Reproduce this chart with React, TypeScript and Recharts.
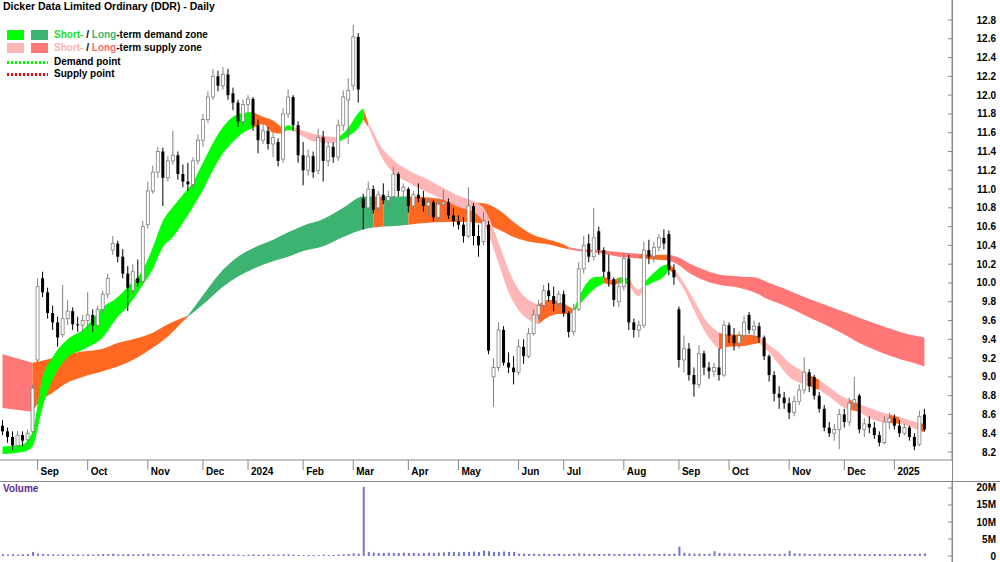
import React from 'react';
import { ComposedChart, BarChart, Bar, Area, XAxis, YAxis } from 'recharts';

// one candle per slot (o, h, l, c), Aug 2023 -> Jan 2025
const ohlc: [number, number, number, number][] = [
  [8.48, 8.54, 8.38, 8.42], [8.42, 8.46, 8.30, 8.36], [8.36, 8.42, 8.22, 8.27], [8.27, 8.42, 8.24, 8.38],
  [8.38, 8.42, 8.26, 8.32], [8.33, 8.44, 8.30, 8.40], [8.42, 8.92, 8.40, 8.88], [9.18, 10.05, 9.15, 9.96],
  [10.05, 10.12, 9.85, 9.90], [9.90, 9.95, 9.62, 9.68], [9.68, 9.76, 9.50, 9.58], [9.58, 9.64, 9.32, 9.42],
  [9.45, 9.98, 9.42, 9.62], [9.62, 9.82, 9.55, 9.70], [9.70, 9.74, 9.50, 9.56], [9.56, 9.64, 9.48, 9.55],
  [9.55, 9.66, 9.48, 9.60], [9.60, 9.90, 9.52, 9.66], [9.66, 9.72, 9.48, 9.55], [9.55, 9.76, 9.52, 9.72],
  [9.72, 9.92, 9.68, 9.88], [9.88, 10.10, 9.84, 10.05], [10.35, 10.50, 10.30, 10.42], [10.42, 10.45, 10.22, 10.28],
  [10.28, 10.36, 10.05, 10.10], [10.10, 10.18, 9.70, 9.95], [9.92, 10.20, 9.88, 10.12], [10.05, 10.25, 9.96, 10.00],
  [10.02, 10.66, 10.00, 10.60], [10.62, 11.08, 10.58, 10.98], [10.98, 11.25, 10.95, 11.18], [11.18, 11.45, 11.12, 11.40],
  [11.40, 11.44, 10.82, 11.12], [11.12, 11.35, 11.08, 11.30], [11.30, 11.62, 11.26, 11.36], [11.36, 11.40, 11.10, 11.16],
  [11.16, 11.26, 11.02, 11.08], [11.08, 11.28, 10.98, 11.05], [11.05, 11.34, 11.00, 11.30], [11.30, 11.58, 11.26, 11.52],
  [11.52, 11.80, 11.45, 11.74], [11.74, 12.04, 11.70, 11.98], [11.98, 12.28, 11.95, 12.20], [12.20, 12.26, 12.04, 12.10],
  [12.10, 12.30, 12.06, 12.22], [12.22, 12.28, 11.95, 12.00], [12.02, 12.08, 11.84, 11.92], [11.92, 11.95, 11.66, 11.72],
  [11.72, 11.95, 11.68, 11.90], [11.90, 12.00, 11.80, 11.96], [11.96, 11.98, 11.62, 11.68], [11.68, 11.74, 11.38, 11.52],
  [11.52, 11.70, 11.48, 11.62], [11.62, 11.66, 11.42, 11.48], [11.48, 11.60, 11.34, 11.55], [11.50, 11.54, 11.24, 11.30],
  [11.32, 11.86, 11.28, 11.80], [11.80, 12.06, 11.76, 11.98], [11.98, 12.00, 11.62, 11.68], [11.68, 11.72, 11.28, 11.36],
  [11.36, 11.50, 11.04, 11.20], [11.20, 11.42, 11.14, 11.35], [11.35, 11.40, 11.12, 11.18], [11.20, 11.64, 11.16, 11.55],
  [11.55, 11.62, 11.08, 11.30], [11.30, 11.50, 11.24, 11.45], [11.45, 11.50, 11.28, 11.34], [11.34, 11.74, 11.30, 11.68],
  [11.68, 12.05, 11.62, 11.98], [11.95, 12.18, 11.48, 12.05], [12.10, 12.75, 12.05, 12.62], [12.62, 12.66, 11.92, 12.06],
  [10.90, 10.95, 10.57, 10.80], [10.80, 11.08, 10.78, 11.00], [11.00, 11.04, 10.74, 10.78], [10.80, 10.98, 10.76, 10.94],
  [10.94, 11.06, 10.84, 10.88], [10.88, 10.98, 10.82, 10.92], [10.92, 11.24, 10.88, 11.16], [11.16, 11.18, 10.92, 10.98],
  [10.98, 11.06, 10.90, 11.02], [11.00, 11.02, 10.75, 10.82], [10.82, 10.98, 10.80, 10.94], [10.94, 11.06, 10.86, 10.90],
  [10.90, 10.98, 10.76, 10.82], [10.82, 10.90, 10.72, 10.86], [10.86, 10.88, 10.66, 10.70], [10.70, 10.90, 10.66, 10.84],
  [10.84, 10.99, 10.78, 10.86], [10.86, 10.90, 10.68, 10.72], [10.72, 10.80, 10.60, 10.66], [10.66, 10.72, 10.57, 10.62],
  [10.62, 10.70, 10.43, 10.50], [10.50, 11.02, 10.48, 10.82], [10.82, 10.85, 10.40, 10.50], [10.50, 10.62, 10.28, 10.40],
  [10.44, 10.76, 10.40, 10.66], [10.62, 10.66, 9.24, 9.28], [9.00, 9.20, 8.68, 9.10], [9.10, 9.58, 9.06, 9.50],
  [9.50, 9.54, 9.12, 9.15], [9.15, 9.26, 9.04, 9.10], [9.10, 9.22, 8.92, 9.05], [9.05, 9.40, 9.02, 9.32],
  [9.32, 9.40, 9.14, 9.22], [9.22, 9.52, 9.20, 9.46], [9.46, 9.72, 9.44, 9.66], [9.66, 9.82, 9.60, 9.76],
  [9.76, 9.98, 9.70, 9.92], [9.92, 10.00, 9.80, 9.86], [9.86, 9.96, 9.70, 9.78], [9.78, 9.92, 9.74, 9.88],
  [9.88, 9.92, 9.64, 9.68], [9.68, 9.70, 9.42, 9.48], [9.48, 9.78, 9.44, 9.72], [9.72, 10.22, 9.70, 10.15],
  [10.15, 10.50, 10.10, 10.40], [10.42, 10.52, 10.22, 10.28], [10.28, 10.80, 10.24, 10.48], [10.55, 10.60, 10.30, 10.35],
  [10.35, 10.38, 10.06, 10.12], [10.12, 10.30, 9.96, 10.04], [10.04, 10.06, 9.75, 9.82], [9.80, 10.04, 9.74, 9.96],
  [9.96, 10.32, 9.92, 10.26], [10.26, 10.30, 9.50, 9.58], [9.58, 9.62, 9.42, 9.50], [9.50, 9.60, 9.42, 9.55],
  [9.55, 10.44, 9.52, 10.35], [10.35, 10.46, 10.20, 10.28], [10.28, 10.44, 10.22, 10.38], [10.38, 10.52, 10.34, 10.48],
  [10.48, 10.57, 10.36, 10.42], [10.52, 10.56, 10.08, 10.14], [10.14, 10.20, 9.98, 10.06], [9.72, 9.75, 9.10, 9.18],
  [9.18, 9.44, 9.05, 9.30], [9.30, 9.36, 8.96, 9.02], [9.02, 9.10, 8.79, 8.92], [8.92, 9.34, 8.88, 9.25],
  [9.25, 9.28, 9.02, 9.10], [9.10, 9.16, 8.98, 9.06], [9.06, 9.15, 9.00, 9.10], [9.10, 9.30, 8.96, 9.02],
  [9.02, 9.60, 9.00, 9.55], [9.55, 9.58, 9.36, 9.44], [9.44, 9.52, 9.28, 9.36], [9.36, 9.48, 9.30, 9.44],
  [9.44, 9.65, 9.40, 9.58], [9.66, 9.69, 9.46, 9.50], [9.50, 9.60, 9.40, 9.54], [9.54, 9.58, 9.36, 9.42],
  [9.42, 9.44, 9.18, 9.22], [9.22, 9.24, 8.95, 9.02], [9.02, 9.06, 8.74, 8.82], [8.82, 8.90, 8.66, 8.78],
  [8.78, 8.84, 8.66, 8.72], [8.72, 8.78, 8.55, 8.62], [8.62, 8.80, 8.58, 8.74], [8.74, 8.92, 8.70, 8.86],
  [8.86, 9.21, 8.82, 9.05], [9.05, 9.08, 8.84, 8.90], [9.00, 9.02, 8.76, 8.80], [8.80, 8.84, 8.62, 8.66],
  [8.66, 8.70, 8.42, 8.46], [8.46, 8.52, 8.36, 8.40], [8.40, 8.50, 8.32, 8.44], [8.44, 8.66, 8.23, 8.60],
  [8.60, 8.66, 8.46, 8.52], [8.52, 8.78, 8.48, 8.72], [8.72, 9.00, 8.66, 8.76], [8.80, 8.82, 8.40, 8.44],
  [8.44, 8.56, 8.36, 8.50], [8.50, 8.58, 8.40, 8.46], [8.46, 8.52, 8.34, 8.38], [8.38, 8.42, 8.26, 8.30],
  [8.30, 8.58, 8.28, 8.52], [8.52, 8.62, 8.44, 8.56], [8.56, 8.60, 8.44, 8.48], [8.48, 8.54, 8.36, 8.40],
  [8.40, 8.50, 8.38, 8.46], [8.46, 8.48, 8.32, 8.36], [8.36, 8.40, 8.22, 8.26], [8.28, 8.64, 8.26, 8.58],
  [8.60, 8.66, 8.42, 8.44],
];

// volume in millions, one per candle
const volume = [
  0.5, 0.4, 0.5, 0.4, 0.5, 0.6, 1.2,
  0.7, 0.6, 0.5, 0.5, 0.4, 0.5, 0.4, 0.4, 0.5, 0.4, 0.5, 0.4, 0.5, 0.6,
  0.6, 0.7, 0.5, 0.5, 0.6, 0.5, 0.5, 0.6, 0.7, 0.6, 0.5, 0.6, 0.5, 0.5, 0.4, 0.5, 0.4, 0.5, 0.5, 0.6,
  0.5, 0.5, 0.4, 0.5, 0.5, 0.4, 0.4, 0.3, 0.4, 0.5, 0.4, 0.4, 0.5, 0.4, 0.4, 0.5, 0.5,
  0.4, 0.3, 0.3, 0.3, 0.3, 0.3, 0.4, 0.3, 0.3, 0.4, 0.5, 0.6, 0.8, 0.7,
  20.3,
  1.2, 1.0, 0.9, 0.9, 1.0, 0.9, 0.9, 1.0, 0.9, 0.9, 0.8, 0.9, 1.0, 0.9,
  1.0, 1.1, 1.2, 1.2, 1.1, 1.2, 1.2, 1.3, 1.2, 1.6, 1.4, 1.2, 1.2, 1.3, 1.2, 1.2,
  0.7, 0.7, 0.6, 0.7, 0.6, 0.7, 0.6, 0.6, 0.7, 0.6, 0.6, 0.7, 0.8, 0.7, 0.6, 0.7,
  0.6, 0.6, 0.7, 0.6, 0.6, 0.7, 0.6, 0.7, 0.7, 0.6, 0.6, 0.7, 0.6, 0.7, 0.6, 0.7,
  2.8,
  1.0, 0.8, 0.7, 0.7, 0.6, 0.7, 1.4, 0.9, 0.8, 0.8, 0.7, 0.7, 0.7, 0.6, 0.6, 0.6, 0.7, 0.7, 0.6, 0.6, 0.7,
  1.5,
  0.8, 0.7, 0.7, 0.6, 0.6, 0.7, 0.6, 0.6, 0.7, 0.6, 0.6, 0.6, 0.7, 0.6, 0.6, 0.5, 0.6, 0.6, 0.5, 0.6,
  0.6, 0.5, 0.6, 0.6, 0.6, 0.7, 0.8,
];

const EMPTY_SLOTS = 5;

const monthTicks = [7, 17, 29, 40, 49, 60, 70, 81, 91, 103, 112, 124, 135, 145, 157, 168, 178];
const monthLabels = ['Sep', 'Oct', 'Nov', 'Dec', '2024', 'Feb', 'Mar', 'Apr', 'May', 'Jun', 'Jul', 'Aug', 'Sep', 'Oct', 'Nov', 'Dec', '2025'];
const priceTicks = [8.2, 8.4, 8.6, 8.8, 9.0, 9.2, 9.4, 9.6, 9.8, 10.0, 10.2, 10.4, 10.6, 10.8, 11.0, 11.2, 11.4, 11.6, 11.8, 12.0, 12.2, 12.4, 12.6, 12.8];
const volumeTicks = [0, 5, 10, 15, 20];

// short-term zone: candle slot, lower edge, upper edge, zone of the stretch that follows
const shortRows = [0, 4, 6, 8, 10, 13, 16, 20, 23, 25, 28, 30, 32, 34, 36, 38, 40, 42, 44, 46, 48, 50, 52, 54, 56, 57, 58, 60, 62, 65, 67, 69, 71, 72, 73, 74, 75, 78, 81, 85, 88, 91, 94, 96, 99, 101, 103, 106, 107, 109, 111, 113, 114, 116, 118, 120, 122, 123, 125, 127, 128, 130, 132, 133, 134, 136, 138, 140, 143, 145, 148, 151, 153, 155, 157, 159, 161, 163, 165, 168, 169, 171, 174, 177, 179, 181, 183, 184];
const shortLow = [8.18, 8.20, 8.26, 8.68, 8.97, 9.21, 9.29, 9.42, 9.64, 9.75, 9.98, 10.15, 10.38, 10.49, 10.64, 10.81, 10.99, 11.20, 11.38, 11.50, 11.60, 11.65, 11.69, 11.60, 11.59, 11.63, 11.62, 11.56, 11.51, 11.49, 11.50, 11.56, 11.65, 11.74, 11.66, 11.54, 11.41, 11.17, 11.07, 10.96, 10.89, 10.81, 10.76, 10.64, 10.21, 9.90, 9.71, 9.58, 9.56, 9.64, 9.67, 9.67, 9.69, 9.82, 9.93, 10.00, 9.98, 10.00, 9.99, 9.86, 9.96, 10.01, 10.07, 10.14, 10.10, 9.93, 9.71, 9.50, 9.29, 9.32, 9.33, 9.36, 9.26, 9.13, 9.00, 8.94, 8.90, 8.86, 8.79, 8.67, 8.65, 8.63, 8.54, 8.51, 8.50, 8.47, 8.43, 8.41];
const shortHigh = [8.26, 8.28, 8.42, 9.00, 9.21, 9.40, 9.50, 9.74, 9.85, 9.96, 10.14, 10.38, 10.66, 10.81, 10.94, 11.07, 11.28, 11.49, 11.66, 11.77, 11.81, 11.82, 11.77, 11.73, 11.64, 11.68, 11.66, 11.62, 11.59, 11.56, 11.55, 11.65, 11.81, 11.86, 11.70, 11.61, 11.50, 11.31, 11.20, 11.10, 11.01, 10.93, 10.87, 10.80, 10.43, 10.14, 9.93, 9.79, 9.77, 9.82, 9.80, 9.75, 9.72, 9.95, 10.06, 10.07, 10.03, 10.06, 10.05, 9.93, 10.00, 10.11, 10.19, 10.20, 10.16, 10.00, 9.82, 9.63, 9.47, 9.45, 9.45, 9.43, 9.34, 9.26, 9.15, 9.08, 9.02, 8.97, 8.89, 8.78, 8.76, 8.71, 8.65, 8.60, 8.57, 8.54, 8.51, 8.50];
const shortZone = ['sd', 'sd', 'sd', 'sd', 'sd', 'sd', 'sd', 'sd', 'sd', 'sd', 'sd', 'sd', 'sd', 'sd', 'sd', 'sd', 'sd', 'sd', 'sd', 'sd', 'sd', 'mx', 'mx', 'mx', 'sd', 'sd', 'ss', 'ss', 'ss', 'ss', 'sd', 'sd', 'sd', 'mx', 'ss', 'ss', 'ss', 'ss', 'ss', 'ss', 'ss', 'ss', 'ss', 'ss', 'ss', 'ss', 'ss', 'ss', 'mx', 'mx', 'mx', 'mx', 'sd', 'sd', 'sd', 'mx', 'mx', 'sd', 'ss', 'ss', 'sd', 'sd', 'sd', 'mx', 'ss', 'ss', 'ss', 'ss', 'mx', 'mx', 'mx', 'ss', 'ss', 'ss', 'ss', 'ss', 'mx', 'ss', 'ss', 'ss', 'mx', 'ss', 'ss', 'mx', 'ss', 'ss', 'mx', 'mx'];

// long-term zone
const longRows = [0, 6, 7, 10, 13, 16, 20, 23, 26, 30, 33, 36, 37, 40, 44, 47, 50, 54, 57, 60, 64, 68, 72, 74, 76, 79, 81, 85, 88, 92, 96, 99, 102, 106, 109, 112, 113, 115, 119, 123, 127, 130, 133, 135, 137, 140, 143, 147, 150, 153, 156, 160, 164, 168, 171, 174, 178, 181, 184];
const longLow = [8.67, 8.63, 8.71, 8.83, 8.94, 9.00, 9.06, 9.11, 9.18, 9.31, 9.43, 9.59, 9.64, 9.77, 9.96, 10.07, 10.15, 10.23, 10.28, 10.34, 10.39, 10.49, 10.57, 10.59, 10.60, 10.61, 10.62, 10.64, 10.65, 10.65, 10.63, 10.57, 10.49, 10.43, 10.41, 10.37, 10.36, 10.34, 10.32, 10.28, 10.26, 10.25, 10.24, 10.19, 10.11, 10.03, 9.98, 9.95, 9.90, 9.82, 9.76, 9.66, 9.56, 9.45, 9.36, 9.29, 9.21, 9.16, 9.11];
const longHigh = [9.24, 9.15, 9.16, 9.20, 9.24, 9.27, 9.30, 9.36, 9.40, 9.47, 9.56, 9.63, 9.65, 9.87, 10.14, 10.28, 10.37, 10.46, 10.54, 10.61, 10.68, 10.80, 10.92, 10.92, 10.92, 10.92, 10.92, 10.91, 10.89, 10.86, 10.85, 10.78, 10.65, 10.51, 10.46, 10.41, 10.38, 10.36, 10.35, 10.33, 10.31, 10.30, 10.30, 10.27, 10.21, 10.14, 10.09, 10.07, 10.06, 10.00, 9.94, 9.85, 9.77, 9.69, 9.63, 9.57, 9.50, 9.45, 9.42];
const longZone = ['ls', 'mx', 'mx', 'mx', 'mx', 'mx', 'mx', 'mx', 'mx', 'mx', 'mx', 'mx', 'ld', 'ld', 'ld', 'ld', 'ld', 'ld', 'ld', 'ld', 'ld', 'ld', 'ld', 'mx', 'ld', 'ld', 'mx', 'mx', 'mx', 'mx', 'mx', 'mx', 'mx', 'mx', 'mx', 'mx', 'ls', 'ls', 'ls', 'ls', 'mx', 'mx', 'ls', 'ls', 'ls', 'ls', 'ls', 'ls', 'ls', 'ls', 'ls', 'ls', 'ls', 'ls', 'ls', 'ls', 'ls', 'ls', 'ls'];

const zoneColor: Record<string, string> = {
  sd: '#00FF00',
  ld: '#3CB371',
  ss: '#FFB6B6',
  ls: '#FF7777',
  mx: '#FF6820',
};

const FONT = "'Liberation Sans', Arial, sans-serif";

const rows: any[] = [];
for (let i = 0; i < ohlc.length + EMPTY_SLOTS; i++) {
  const c = ohlc[i];
  rows.push(c ? { i, o: c[0], h: c[1], l: c[2], c: c[3], range: [c[2], c[1]], vol: volume[i] } : { i });
}

function buildSegments(prefix: string, sRows: number[], lo: number[], hi: number[], zone: string[]) {
  const segs: { key: string; color: string }[] = [];
  let a = 0;
  for (let k = 1; k < sRows.length; k++) {
    const last = k === sRows.length - 1;
    if (zone[k] !== zone[a] || last) {
      const key = `${prefix}${segs.length}`;
      for (let j = a; j <= k; j++) rows[sRows[j]][key] = [lo[j], hi[j]];
      segs.push({ key, color: zoneColor[zone[a]] });
      a = k;
    }
  }
  return segs;
}

const longSegs = buildSegments('lz', longRows, longLow, longHigh, longZone);
const shortSegs = buildSegments('sz', shortRows, shortLow, shortHigh, shortZone);

const Candle = (props: any) => {
  const { x, y, width, height, payload } = props;
  if (!payload || payload.h == null) return null;
  const { o, h, l, c } = payload;
  const ppu = height / (h - l || 1);
  const yo = y + (h - o) * ppu;
  const yc = y + (h - c) * ppu;
  const up = c >= o;
  const cx = x + width / 2;
  const top = Math.min(yo, yc);
  const bh = Math.max(Math.abs(yc - yo), 1);
  const col = up ? '#808080' : '#000000';
  return (
    <g>
      <line x1={cx} x2={cx} y1={y} y2={y + height} stroke={col} strokeWidth={1} />
      <rect x={x} y={top} width={width} height={bh} fill={up ? '#ffffff' : '#000000'} stroke={col} strokeWidth={up ? 0.8 : 0} />
    </g>
  );
};

const MonthTick = (props: any) => {
  const { x, y, payload } = props;
  const k = monthTicks.indexOf(payload.value);
  return (
    <text x={x + 3} y={y + 5} fontSize={10} fontWeight="bold" fontFamily={FONT} fill="#000">
      {monthLabels[k]}
    </text>
  );
};

const PriceTick = (props: any) => {
  const { x, y, payload } = props;
  return (
    <g>
      <line x1={x - 4} x2={x} y1={y} y2={y} stroke="#888" />
      <text x={x + 44} y={y + 3.5} textAnchor="end" fontSize={10} fontWeight="bold" fontFamily={FONT} fill="#000">
        {Number(payload.value).toFixed(1)}
      </text>
    </g>
  );
};

const VolTick = (props: any) => {
  const { x, y, payload } = props;
  return (
    <g>
      <line x1={x - 4} x2={x} y1={y} y2={y} stroke="#888" />
      <text x={x + 44} y={y + 3.5} textAnchor="end" fontSize={10} fontWeight="bold" fontFamily={FONT} fill="#000">
        {payload.value === 0 ? '0' : `${payload.value}M`}
      </text>
    </g>
  );
};

const swatch = (color: string, left: number, top: number) => (
  <div style={{ position: 'absolute', left, top, width: 17, height: 10, background: color }} />
);

const dotted = (color: string, top: number) => (
  <div
    style={{
      position: 'absolute',
      left: 7,
      top,
      width: 41,
      height: 3,
      background: `repeating-linear-gradient(90deg, ${color} 0 2px, transparent 2px 4px)`,
    }}
  />
);

const legendText: React.CSSProperties = {
  position: 'absolute',
  left: 54,
  fontFamily: FONT,
  fontWeight: 'bold',
  fontSize: 10,
  lineHeight: '12px',
  color: '#000',
  whiteSpace: 'nowrap',
};

export default function App() {
  return (
    <div style={{ position: 'relative', width: 1000, height: 562, background: '#fff', overflow: 'hidden' }}>
      <style>{'body{margin:0}'}</style>
      <div style={{ position: 'absolute', left: 0, top: 0 }}>
        <ComposedChart width={1000} height={480} data={rows} margin={{ top: 0, right: 0, bottom: 0, left: 0 }}>
          <XAxis
            dataKey="i"
            ticks={monthTicks}
            interval={0}
            height={20}
            tickSize={10}
            tickMargin={0}
            tick={<MonthTick />}
            axisLine={{ stroke: '#888' }}
            tickLine={{ stroke: '#888' }}
          />
          <YAxis
            orientation="right"
            width={48}
            domain={[8.115, 13.013]}
            allowDataOverflow
            ticks={priceTicks}
            interval={0}
            tickSize={0}
            tickMargin={0}
            tick={<PriceTick />}
            axisLine={{ stroke: '#888' }}
          />
          {longSegs.map((s) => (
            <Area
              key={s.key}
              dataKey={s.key}
              type="monotone"
              fill={s.color}
              fillOpacity={1}
              stroke="none"
              connectNulls
              dot={false}
              activeDot={false}
              isAnimationActive={false}
            />
          ))}
          {shortSegs.map((s) => (
            <Area
              key={s.key}
              dataKey={s.key}
              type="monotone"
              fill={s.color}
              fillOpacity={1}
              stroke="none"
              connectNulls
              dot={false}
              activeDot={false}
              isAnimationActive={false}
            />
          ))}
          <Bar dataKey="range" barSize={3} shape={(p: any) => <Candle {...p} />} isAnimationActive={false} />
        </ComposedChart>
      </div>

      <div style={{ position: 'absolute', left: 0, top: 481, borderTop: '1px solid #888', width: 1000 }}>
        <BarChart width={1000} height={80} data={rows} margin={{ top: 0, right: 0, bottom: 0, left: 0 }}>
          <XAxis dataKey="i" hide />
          <YAxis
            orientation="right"
            width={48}
            domain={[-1.76, 21.76]}
            allowDataOverflow
            ticks={volumeTicks}
            interval={0}
            tickSize={0}
            tickMargin={0}
            tick={<VolTick />}
            axisLine={{ stroke: '#888' }}
          />
          <Bar dataKey="vol" barSize={2} fill="#7474d6" isAnimationActive={false} />
        </BarChart>
      </div>
      <div style={{ position: 'absolute', left: 952, top: 0, width: 1, height: 562, background: '#888' }} />

      <div style={{ position: 'absolute', left: 3, top: 0, fontFamily: FONT, fontWeight: 'bold', fontSize: 10.5, lineHeight: '13px', color: '#000' }}>
        Dicker Data Limited Ordinary (DDR) - Daily
      </div>
      {swatch('#00FF00', 7, 30)}
      {swatch('#3CB371', 31, 30)}
      <div style={{ ...legendText, top: 29 }}>
        <span style={{ color: '#22dd22' }}>Short-</span> / <span style={{ color: '#3CB371' }}>Long</span>-term demand zone
      </div>
      {swatch('#FFB6B6', 7, 43)}
      {swatch('#FF7777', 31, 43)}
      <div style={{ ...legendText, top: 42 }}>
        <span style={{ color: '#FFB0B0' }}>Short-</span> / <span style={{ color: '#FF6A6A' }}>Long</span>-term supply zone
      </div>
      {dotted('#00FF00', 61)}
      <div style={{ ...legendText, top: 56 }}>Demand point</div>
      {dotted('#FF0000', 73)}
      <div style={{ ...legendText, top: 68 }}>Supply point</div>
      <div style={{ position: 'absolute', left: 3, top: 483, fontFamily: FONT, fontWeight: 'bold', fontSize: 10, color: '#5a2d91' }}>
        Volume
      </div>
    </div>
  );
}
